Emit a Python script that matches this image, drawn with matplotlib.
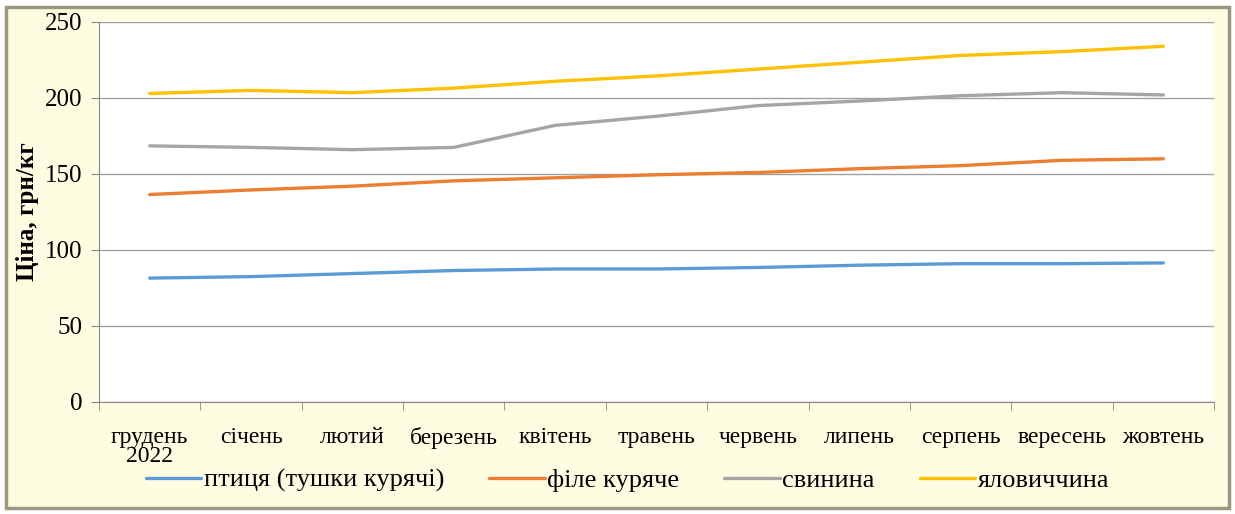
import matplotlib.pyplot as plt
from matplotlib.patches import FancyBboxPatch

months = ["грудень\n2022", "січень", "лютий", "березень", "квітень", "травень",
          "червень", "липень", "серпень", "вересень", "жовтень"]

ptytsia = [81.5, 82.5, 84.5, 86.5, 87.5, 87.5, 88.5, 90, 91, 91, 91.5]
file_kuriache = [136.5, 139.5, 142, 145.5, 147.5, 149.5, 151, 153.5, 155.5, 159, 160]
svynyna = [168.5, 167.5, 166, 167.5, 182, 188, 195, 198, 201.5, 203.5, 202]
yalovychyna = [203, 205, 203.5, 206.5, 211, 214.5, 219, 223.5, 228, 230.5, 234]

series = [
    ("птиця (тушки курячі)", ptytsia, "#5B9BD5"),
    ("філе куряче", file_kuriache, "#ED7D31"),
    ("свинина", svynyna, "#A5A5A5"),
    ("яловиччина", yalovychyna, "#FFC000"),
]

plt.rcParams["font.family"] = "serif"
plt.rcParams["font.serif"] = ["Liberation Serif", "DejaVu Serif"]

fig = plt.figure(figsize=(12.35, 5.14), dpi=100)
fig.patch.set_facecolor("white")

# рамка діаграми з жовтуватим фоном
frame = FancyBboxPatch((0.005, 0.012), 0.99, 0.975, boxstyle="square,pad=0",
                       transform=fig.transFigure, facecolor="#FFFDE1",
                       edgecolor="#9A9880", linewidth=2.5, zorder=-10)
fig.patches.append(frame)

ax = fig.add_axes([99 / 1235, 1 - 402 / 514, (1214 - 99) / 1235, (402 - 22) / 514])
ax.set_facecolor("white")

x = list(range(len(months)))
for name, vals, color in series:
    ax.plot(x, vals, color=color, linewidth=2.4, label=name, solid_capstyle="round")

ax.set_xlim(-0.5, len(months) - 0.5)
ax.set_ylim(0, 250)
ax.set_yticks(range(0, 251, 50))
ax.yaxis.grid(True, color="#A0A0A0", linewidth=1)
ax.set_axisbelow(True)

ax.set_xticks(x)
ax.set_xticklabels(months, fontsize=17, linespacing=0.9)
ax.set_xticks([i - 0.5 for i in range(len(months) + 1)], minor=True)
ax.tick_params(axis="x", which="major", length=0, pad=18)
ax.tick_params(axis="x", which="minor", length=6, color="#868686", direction="out")
ax.tick_params(axis="y", labelsize=18, length=6, color="#868686", pad=6)

for side in ["left", "bottom"]:
    ax.spines[side].set_color("#868686")
ax.spines["top"].set_visible(False)
ax.spines["right"].set_visible(False)

ax.set_ylabel("Ціна, грн/кг", fontsize=18, fontweight="bold", labelpad=4)

ax.legend(loc="upper center", bbox_to_anchor=(0.474, -0.112), ncol=4, frameon=False,
          fontsize=19, handlelength=2.1, handletextpad=0.1, columnspacing=1.7)

fig.savefig("out.png", dpi=100, facecolor=fig.get_facecolor())
